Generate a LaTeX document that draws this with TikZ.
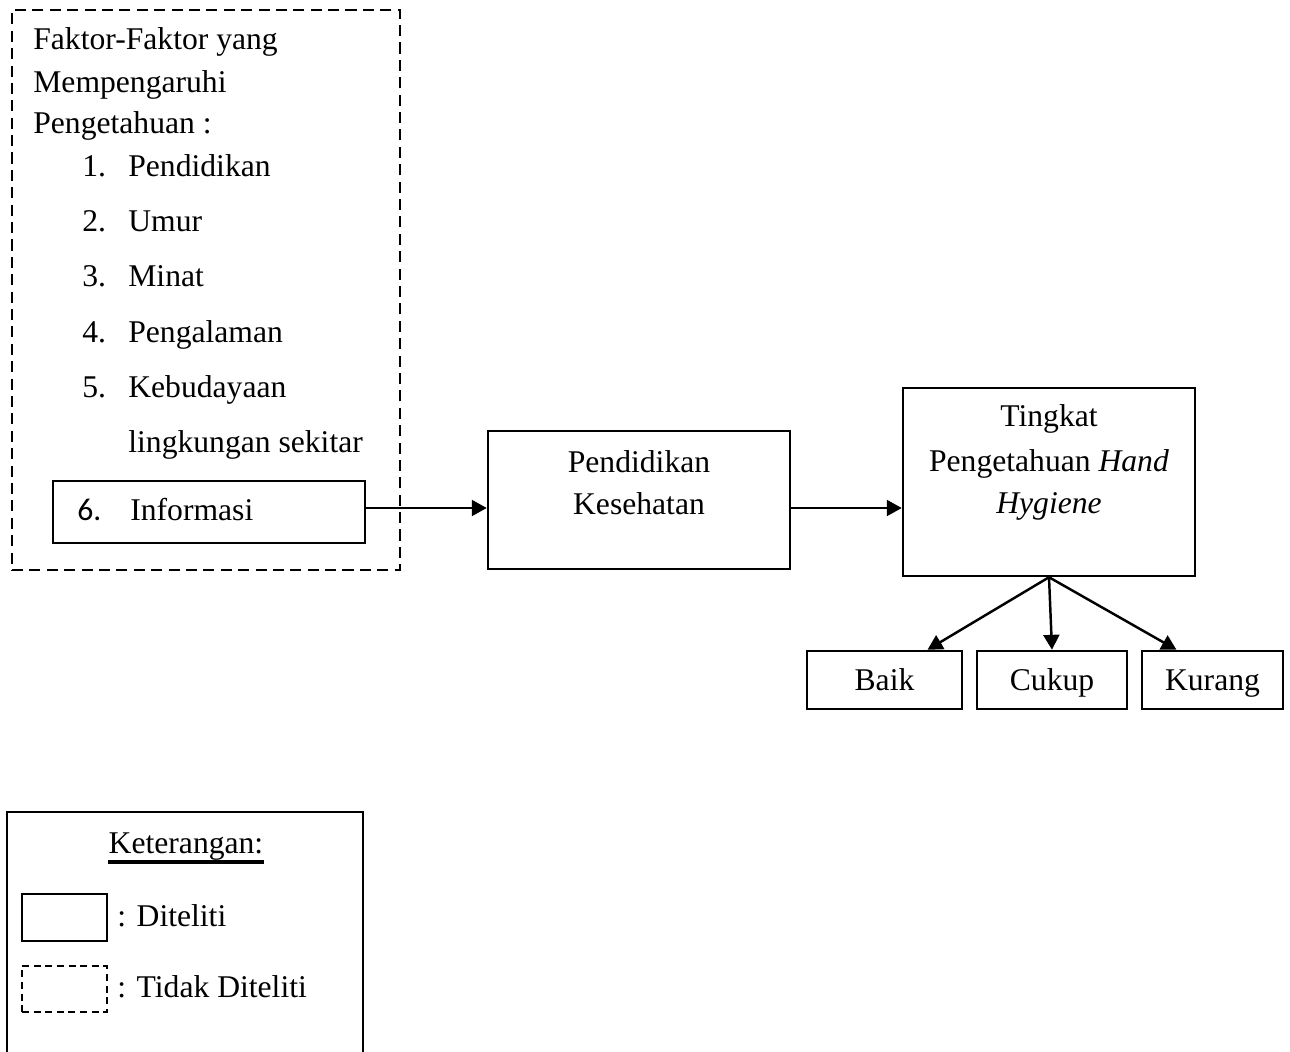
\documentclass[tikz,border=0pt]{standalone}
\usepackage{fontspec}
\setmainfont{Liberation Serif}
\newfontfamily\angkafont{Carlito}
\usetikzlibrary{arrows.meta}

\begin{document}
\begin{tikzpicture}[x=0.02cm, y=-0.02cm, font=\fontsize{18pt}{22pt}\selectfont]
\def\u{0.02cm}
\tikzset{
  kotak/.style={draw, line width=1.4pt, inner sep=0pt},
  putus/.style={draw, line width=1.5pt, inner sep=0pt, dash pattern=on 6.3pt off 3.6pt},
  teks/.style={anchor=base west, inner sep=0pt},
  tengah/.style={anchor=base, inner sep=0pt},
  panah/.style={line width=1.4pt, arrows={-{Triangle[length=8.5pt, width=9pt]}}}
}
\useasboundingbox (0,0) rectangle (1290,1051);

% faktor yang tidak diteliti
\node[putus, minimum width=388*\u, minimum height=560*\u] (faktor) at (206,290) {};
\node[teks] (f1) at (33,50) {Faktor-Faktor yang};
\node[teks] (f2) at (33,92) {Mempengaruhi};
\node[teks] (f3) at (33,133) {Pengetahuan :};
\node[teks] (n1) at (82,176) {1.};
\node[teks] (t1) at (128,176) {Pendidikan};
\node[teks] (n2) at (82,231) {2.};
\node[teks] (t2) at (128,231) {Umur};
\node[teks] (n3) at (82,286) {3.};
\node[teks] (t3) at (128,286) {Minat};
\node[teks] (n4) at (82,342) {4.};
\node[teks] (t4) at (128,342) {Pengalaman};
\node[teks] (n5) at (82,397) {5.};
\node[teks] (t5) at (128,397) {Kebudayaan};
\node[teks] (t5b) at (128,452) {lingkungan sekitar};

\node[kotak, minimum width=312*\u, minimum height=62*\u] (info) at (209,512) {};
\node[teks] (n6) at (77,520) {\angkafont 6.};
\node[teks] (t6) at (130,520) {Informasi};

% kotak yang diteliti
\node[kotak, minimum width=302*\u, minimum height=138*\u] (pk) at (639,500) {};
\node[tengah] (pk1) at (639,472) {Pendidikan};
\node[tengah] (pk2) at (639,514) {Kesehatan};

\node[kotak, minimum width=292*\u, minimum height=188*\u] (tk) at (1049,482) {};
\node[tengah] (tk1) at (1049,426) {Tingkat};
\node[tengah] (tk2) at (1049,471) {Pengetahuan \textit{Hand}};
\node[tengah] (tk3) at (1049,513) {\textit{Hygiene}};

\node[kotak, minimum width=155*\u, minimum height=58*\u] (baik) at (884.5,680) {};
\node[kotak, minimum width=150*\u, minimum height=58*\u] (cukup) at (1052,680) {};
\node[kotak, minimum width=141*\u, minimum height=58*\u] (kurang) at (1212.5,680) {};
\node[tengah] (b1) at (884.5,690) {Baik};
\node[tengah] (c1) at (1052,690) {Cukup};
\node[tengah] (k1) at (1212.5,690) {Kurang};

\coordinate (a1) at ([yshift=4*\u]info.east);
\draw[panah] (a1) -- (a1 -| pk.west);
\draw[panah] (a1 -| pk.east) -- (a1 -| tk.west);
\draw[panah] (tk.south) -- ([xshift=43*\u]baik.north);
\draw[panah] (tk.south) -- (cukup.north);
\draw[panah] (tk.south) -- ([xshift=-36*\u]kurang.north);

% keterangan
\draw[line width=1.4pt] (7,1060) -- (7,812) -- (363,812) -- (363,1060);
\node[tengah] (ket) at (186,853) {Keterangan:};
\draw[line width=1.9pt] ([yshift=-9*\u]ket.base west) -- ([yshift=-9*\u]ket.base east);
\node[kotak, minimum width=85*\u, minimum height=47*\u] (ld) at (64.5,917.5) {};
\node[draw, line width=1.2pt, dash pattern=on 4pt off 2.6pt, inner sep=0pt,
      minimum width=85*\u, minimum height=46*\u] (ltd) at (64.5,989) {};
\node[teks] (ld1) at (117,926) {: Diteliti};
\node[teks] (ltd1) at (117,997) {: Tidak Diteliti};
\end{tikzpicture}
\end{document}
